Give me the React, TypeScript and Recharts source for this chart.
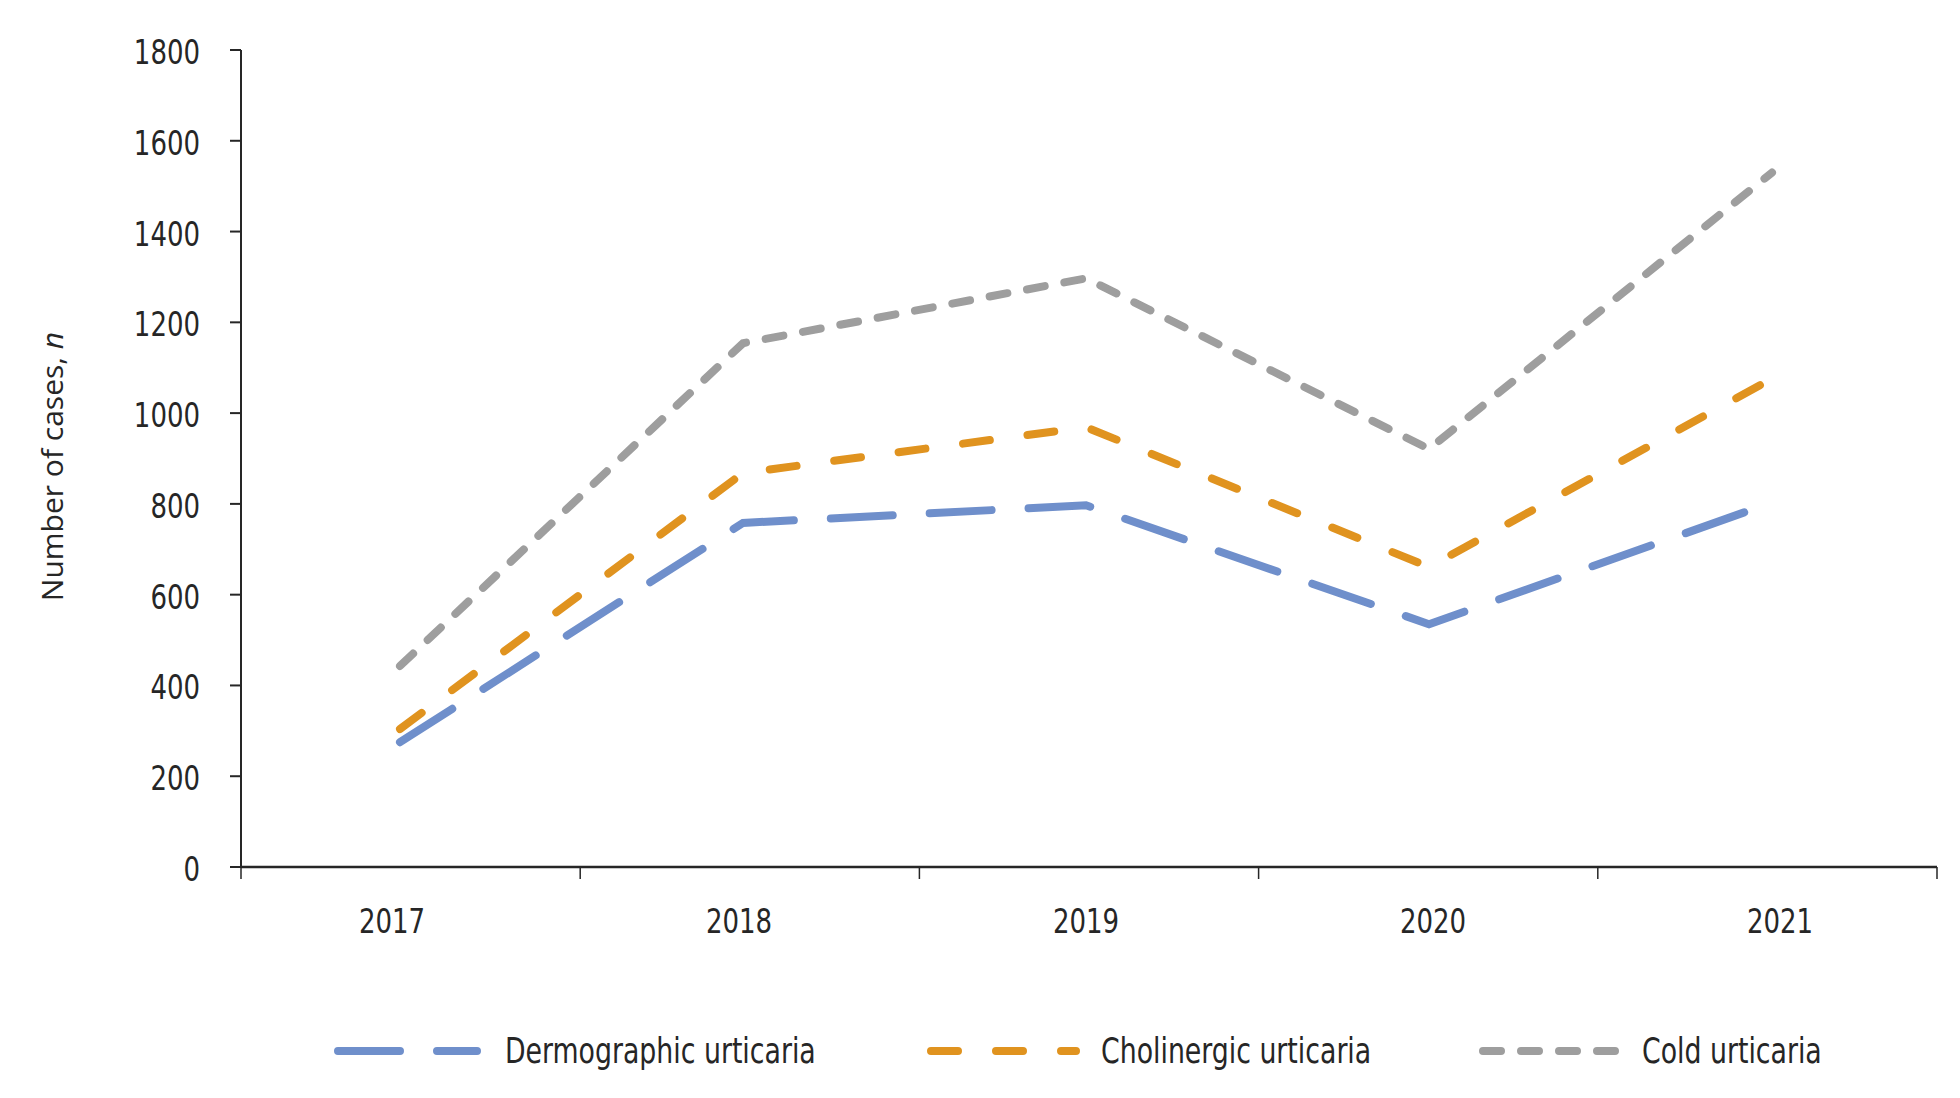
import { LineChart, Line, XAxis, YAxis } from 'recharts';

const years = ['2017', '2018', '2019', '2020', '2021'];
const dermographic = [275, 758, 797, 535, 803];
const cholinergic = [304, 868, 969, 661, 1076];
const cold = [443, 1154, 1297, 921, 1530];
const yTicks = [0, 200, 400, 600, 800, 1000, 1200, 1400, 1600, 1800];

const series = [
  { key: 'dermographic', name: 'Dermographic urticaria', color: '#6F8FCB', dash: '62 37' },
  { key: 'cholinergic', name: 'Cholinergic urticaria', color: '#E0931F', dash: '27 38' },
  { key: 'cold', name: 'Cold urticaria', color: '#9E9E9E', dash: '18 20' },
];

const data = years.map((year, i) => ({
  year,
  dermographic: dermographic[i],
  cholinergic: cholinergic[i],
  cold: cold[i],
}));

const condensed = "'Liberation Sans Narrow', 'DejaVu Sans Condensed', Roboto, sans-serif";
const axisColor = '#262626';
const squeeze = 0.85;

// plot area geometry (from the margins below)
const plotLeft = 241;
const plotWidth = 1960 - 241 - 23;
const bandW = plotWidth / years.length;

const YearTick = (props: any) => {
  const { x, y, payload, index, visibleTicksCount } = props;
  const axisY = y - 12;
  const left = plotLeft + index * bandW;
  return (
    <g>
      <line x1={left} x2={left} y1={axisY} y2={axisY + 12} stroke={axisColor} strokeWidth={1.5} />
      {index === visibleTicksCount - 1 && (
        <line x1={left + bandW} x2={left + bandW} y1={axisY} y2={axisY + 12} stroke={axisColor} strokeWidth={1.5} />
      )}
      <g transform={`translate(${x + (index - 2) * 4},${y + 54}) scale(${squeeze},1)`}>
        <text x={0} y={0} textAnchor="middle" fill={axisColor} fontSize={34} fontFamily={condensed}>
          {payload.value}
        </text>
      </g>
    </g>
  );
};

const CountTick = (props: any) => {
  const { x, y, payload } = props;
  return (
    <g transform={`translate(${x},${y + 14}) scale(${squeeze},1)`}>
      <text x={0} y={0} textAnchor="end" fill={axisColor} fontSize={34} fontFamily={condensed}>
        {payload.value}
      </text>
    </g>
  );
};

const YTitle = (props: any) => {
  const vb = props.viewBox || { x: 0, y: 50, height: 817 };
  const cx = vb.x + 63;
  const cy = vb.y + vb.height / 2 + 8;
  return (
    <text
      x={cx}
      y={cy}
      transform={`rotate(-90, ${cx}, ${cy})`}
      textAnchor="middle"
      fill={axisColor}
      fontSize={30}
      fontFamily="'Open Sans', 'Noto Sans', sans-serif"
    >
      Number of cases, <tspan fontStyle="italic">n</tspan>
    </text>
  );
};

const legendItems = [
  { x1: 338, x2: 477, tx: 505 },
  { x1: 931, x2: 1076, tx: 1101 },
  { x1: 1483, x2: 1617, tx: 1642 },
];

const App = () => {
  return (
    <div style={{ position: 'absolute', left: 0, top: 0, width: 1960, height: 1098, background: '#fff' }}>
      <LineChart width={1960} height={1098} data={data} margin={{ top: 50, right: 23, bottom: 171, left: 0 }}>
        <XAxis
          dataKey="year"
          scale="point"
          padding={{ left: 159, right: 165 }}
          interval={0}
          height={60}
          tickSize={12}
          tickMargin={0}
          tickLine={false}
          axisLine={{ stroke: axisColor, strokeWidth: 2.5 }}
          tick={<YearTick />}
        />
        <YAxis
          width={241}
          domain={[0, 1800]}
          ticks={yTicks}
          interval={0}
          tickSize={11}
          tickMargin={30}
          axisLine={{ stroke: axisColor, strokeWidth: 2 }}
          tickLine={{ stroke: axisColor, strokeWidth: 2 }}
          tick={<CountTick />}
          label={<YTitle />}
        />
        {series.map((s) => (
          <Line
            key={s.key}
            type="linear"
            dataKey={s.key}
            name={s.name}
            stroke={s.color}
            strokeWidth={8}
            strokeDasharray={s.dash}
            strokeLinecap="round"
            dot={false}
            activeDot={false}
            isAnimationActive={false}
          />
        ))}
      </LineChart>
      <svg width={1960} height={60} style={{ position: 'absolute', left: 0, top: 1021 }}>
        {series.map((s, i) => (
          <g key={s.key}>
            <line
              x1={legendItems[i].x1}
              x2={legendItems[i].x2}
              y1={30}
              y2={30}
              stroke={s.color}
              strokeWidth={8}
              strokeDasharray={s.dash}
              strokeLinecap="round"
            />
            <g transform={`translate(${legendItems[i].tx},42) scale(${squeeze},1)`}>
              <text x={0} y={0} fill={axisColor} fontSize={35} fontFamily={condensed}>
                {s.name}
              </text>
            </g>
          </g>
        ))}
      </svg>
    </div>
  );
};

export default App;
